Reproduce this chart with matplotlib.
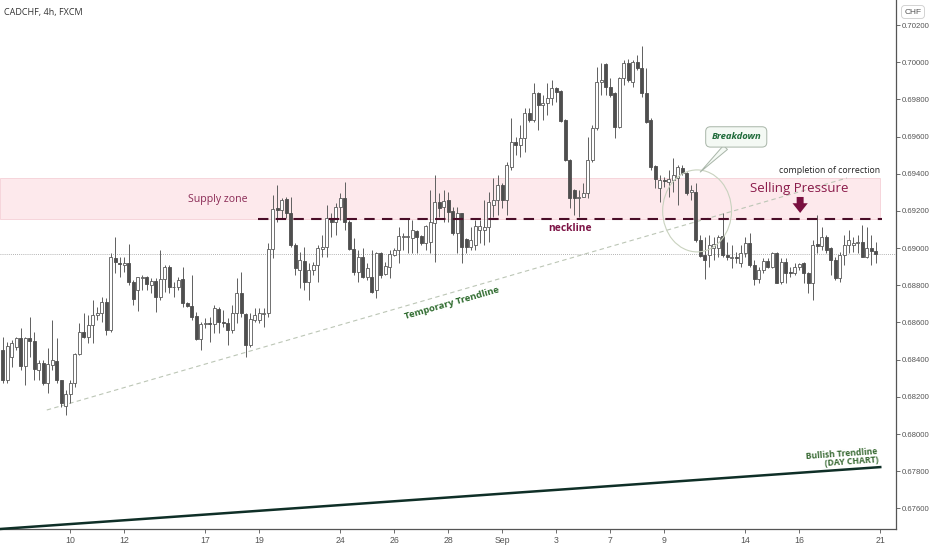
import numpy as np
import matplotlib
matplotlib.use("Agg")
import matplotlib.pyplot as plt
from matplotlib.patches import Rectangle, Ellipse

# CADCHF 4h candles
opens = [
    .68452, .68290, .68416, .68470, .68514, .68366, .68514, .68502, .68344, .68380,
    .68272, .68371, .68394, .68290, .68150, .68215, .68272, .68430, .68550, .68520,
    .68586, .68640, .68649, .68712, .68559, .68945, .68921, .68909, .68918, .68816,
    .68774, .68841, .68843, .68801, .68825, .68739, .68834, .68896, .68789, .68792,
    .68834, .68703, .68690, .68636, .68513, .68592, .68599, .68592, .68671, .68604,
    .68599, .68559, .68649, .68757, .68644, .68479, .68613, .68613, .68644, .68649,
    .68993, .69214, .69205, .69262, .69187, .69016, .68882, .68930, .68819, .68882,
    .68909, .68993, .69004, .69160, .69142, .69223, .69268, .69142, .68995, .68873,
    .68954, .68843, .68846, .68774, .68972, .68860, .68900, .68963, .68990, .69058,
    .69058, .69052, .69092, .69065, .69025, .69034, .69133, .69246, .69223, .69259,
    .69199, .69079, .69191, .69047, .69008, .69016, .69097, .69097, .69112, .69232,
    .69259, .69339, .69259, .69438, .69572, .69555, .69590, .69725, .69689, .69836,
    .69770, .69779, .69806, .69859, .69847, .69689, .69474, .69312, .69268, .69276,
    .69294, .69474, .69644, .69895, .69990, .69868, .69832, .69653, .69913, .69997,
    .69895, .70003, .69967, .69836, .69689, .69442, .69321, .69366, .69357, .69366,
    .69375, .69432, .69402, .69303, .69303, .69043, .68963, .68963, .68999, .68999,
    .69065, .68963, .68948, .68954, .68918, .68972, .69029, .68909, .68832, .68882,
    .68932, .68900, .68975, .68819, .68927, .68873, .68864, .68900, .68918, .68868,
    .68814, .69022, .69011, .69061, .68999, .68936, .68837, .68963, .69016, .69016,
    .69025, .69034, .68954, .68999, .68986,
]
highs = [
    .68523, .68497, .68505, .68523, .68568, .68523, .68631, .68550, .68398, .68398,
    .68461, .68613, .68514, .68290, .68237, .68290, .68434, .68599, .68649, .68640,
    .68721, .68685, .68739, .68730, .68972, .69058, .68954, .68954, .69022, .68828,
    .68846, .68855, .68850, .68837, .68837, .68990, .68909, .68909, .68819, .68846,
    .68900, .68712, .68855, .68658, .68604, .68622, .68631, .68694, .68685, .68667,
    .68622, .68694, .68837, .68873, .68649, .68649, .68676, .68676, .68676, .69029,
    .69285, .69339, .69268, .69276, .69276, .69025, .68981, .69008, .68918, .68927,
    .69016, .69070, .69232, .69187, .69241, .69294, .69357, .69151, .69052, .68990,
    .68999, .68918, .68990, .68981, .68981, .68927, .68990, .68999, .69115, .69079,
    .69160, .69151, .69097, .69070, .69124, .69312, .69393, .69294, .69312, .69303,
    .69223, .69223, .69191, .69052, .69115, .69151, .69151, .69259, .69303, .69375,
    .69393, .69348, .69465, .69698, .69599, .69662, .69752, .69752, .69886, .69841,
    .69824, .69886, .69904, .69868, .69850, .69693, .69477, .69316, .69312, .69348,
    .69599, .69662, .69972, .69994, .69994, .69913, .69841, .69922, .70012, .70015,
    .70012, .70040, .70087, .69967, .69698, .69447, .69393, .69384, .69420, .69483,
    .69447, .69447, .69411, .69339, .69348, .69070, .69061, .69070, .69061, .69070,
    .69187, .69034, .69016, .68981, .69016, .69061, .69079, .68936, .68900, .68945,
    .68945, .68981, .68981, .68945, .68945, .68900, .68918, .68922, .68927, .68873,
    .69043, .69178, .69115, .69070, .69007, .68954, .68981, .69070, .69097, .69061,
    .69070, .69124, .69115, .69070, .69034,
]
lows = [
    .68272, .68272, .68362, .68452, .68344, .68263, .68416, .68290, .68290, .68263,
    .68219, .68344, .68272, .68147, .68102, .68165, .68254, .68425, .68514, .68488,
    .68488, .68613, .68604, .68532, .68550, .68864, .68846, .68873, .68801, .68694,
    .68663, .68774, .68774, .68757, .68658, .68721, .68765, .68757, .68739, .68774,
    .68685, .68685, .68613, .68505, .68452, .68568, .68497, .68541, .68541, .68577,
    .68479, .68541, .68595, .68631, .68416, .68470, .68604, .68595, .68577, .68631,
    .68945, .69142, .69160, .69160, .69008, .68855, .68783, .68774, .68721, .68855,
    .68819, .68954, .68954, .69061, .69070, .69151, .69097, .68990, .68855, .68819,
    .68837, .68828, .68760, .68730, .68837, .68855, .68837, .68957, .68918, .68990,
    .68972, .68972, .68972, .69016, .68990, .68972, .68927, .69169, .69142, .69142,
    .69070, .68972, .68918, .68972, .68990, .68990, .69025, .69016, .69034, .69169,
    .69178, .69214, .69178, .69420, .69501, .69492, .69519, .69680, .69680, .69635,
    .69689, .69716, .69770, .69788, .69680, .69470, .69214, .69178, .69169, .69276,
    .69268, .69465, .69635, .69824, .69824, .69815, .69590, .69644, .69877, .69895,
    .69868, .69958, .69815, .69671, .69420, .69321, .69250, .69330, .69276, .69303,
    .69232, .69393, .69285, .69259, .69034, .68954, .68832, .68900, .68936, .68954,
    .68954, .68936, .68891, .68918, .68900, .68954, .68900, .68801, .68810, .68864,
    .68891, .68891, .68810, .68807, .68810, .68846, .68855, .68882, .68810, .68757,
    .68721, .68972, .68990, .68972, .68855, .68828, .68819, .68909, .68972, .68981,
    .68972, .68950, .68945, .68909, .68918,
]
closes = [
    .68290, .68473, .68491, .68514, .68366, .68514, .68502, .68348, .68380, .68272,
    .68375, .68398, .68290, .68165, .68215, .68272, .68430, .68550, .68520, .68586,
    .68640, .68649, .68712, .68559, .68950, .68923, .68912, .68918, .68816, .68726,
    .68843, .68846, .68806, .68825, .68739, .68834, .68900, .68792, .68792, .68828,
    .68703, .68690, .68631, .68513, .68592, .68599, .68592, .68676, .68604, .68595,
    .68559, .68652, .68757, .68649, .68479, .68617, .68640, .68649, .68649, .68993,
    .69208, .69205, .69259, .69187, .69016, .68891, .68936, .68819, .68882, .68909,
    .68999, .69004, .69160, .69142, .69223, .69268, .69142, .68995, .68873, .68954,
    .68843, .68891, .68765, .68972, .68855, .68904, .68968, .68990, .69065, .69065,
    .69065, .69097, .69058, .69029, .69119, .69142, .69250, .69214, .69255, .69196,
    .69079, .69187, .69008, .69008, .69043, .69119, .69119, .69112, .69250, .69259,
    .69339, .69259, .69447, .69572, .69555, .69590, .69725, .69689, .69836, .69770,
    .69782, .69806, .69859, .69841, .69685, .69474, .69268, .69268, .69276, .69298,
    .69474, .69644, .69895, .69904, .69868, .69824, .69653, .69913, .69997, .69904,
    .70003, .69967, .69832, .69680, .69438, .69370, .69366, .69361, .69370, .69393,
    .69438, .69402, .69294, .69312, .69043, .68957, .68936, .69016, .69022, .69061,
    .68963, .68950, .68954, .68948, .68972, .69029, .68909, .68832, .68882, .68932,
    .68900, .68975, .68814, .68927, .68864, .68864, .68900, .68914, .68868, .68814,
    .69016, .69011, .69061, .68990, .68936, .68837, .68963, .69016, .69043, .69029,
    .69034, .68954, .68999, .68986, .68968,
]

tick_pos = [15, 27, 45, 57, 75, 87, 99, 111, 123, 135, 147, 165, 177, 195]
tick_lbl = ["10", "12", "17", "19", "24", "26", "28", "Sep", "3", "7", "9", "14", "16", "21"]
price_ticks = [0.676, 0.678, 0.680, 0.682, 0.684, 0.686, 0.688, 0.690,
               0.692, 0.694, 0.696, 0.698, 0.700, 0.702]

supply_top, supply_bot = 0.69377, 0.69156
neckline = 0.69156
temp_trend_x, temp_trend_y = [9.8, 187.6], [0.68129, 0.69377]
day_trend_x, day_trend_y = [-0.6, 195.0], [0.67489, 0.67822]

x = np.arange(len(opens))
o = np.array(opens); h = np.array(highs); l = np.array(lows); c = np.array(closes)
up = c >= o

fig = plt.figure(figsize=(9.32, 5.5), dpi=100)
ax = fig.add_axes([0, 21 / 550, 896 / 932, 529 / 550])
ax.set_xlim(-0.6, 198.5)
ax.set_ylim(0.67489, 0.703345)

FONT = "Liberation Sans"
TXT = "Open Sans"

# supply zone
ax.add_patch(Rectangle((-0.6, supply_bot), 195.6, supply_top - supply_bot,
                       facecolor="#fde9ec", edgecolor="#f5d0d6", lw=0.6, zorder=0))
ax.text(47.8, 0.69264, "Supply zone", color="#8a2a55", fontsize=7.6,
        family=TXT, ha="center", va="center")

# last price line
ax.axhline(closes[-1], color="#9a9a9a", lw=0.6, ls=(0, (1, 1.5)), zorder=1)

# candles
ax.vlines(x, l, h, color="#5f5f5f", lw=0.7, zorder=2)
body_h = np.maximum(np.abs(c - o), 0.000025)
body_b = np.minimum(o, c)
ax.bar(x[up], body_h[up], bottom=body_b[up], width=0.64, facecolor="white",
       edgecolor="#5a5a5a", lw=0.6, zorder=3)
ax.bar(x[~up], body_h[~up], bottom=body_b[~up], width=0.64, facecolor="#4e4e4e",
       edgecolor="#4e4e4e", lw=0.6, zorder=3)

# neckline
ax.plot([56.7, 195.4], [neckline, neckline], color="#4a0d28", lw=1.5,
        ls=(0, (5, 3.5)), zorder=4)
ax.text(126.1, 0.69108, "neckline", color="#7d1446", fontsize=7.4, fontweight="bold",
        family=TXT, ha="center", va="center")

# temporary trendline
ax.plot(temp_trend_x, temp_trend_y, color="#bcc6b6", lw=0.8, ls=(0, (4, 3)), zorder=1)
ax.text(99.9, 0.68704, "Temporary Trendline", color="#2e6b2e", fontsize=6.8,
        fontweight="bold", family=TXT, rotation=16,
        ha="center", va="center", rotation_mode="anchor")

# daily trendline
ax.plot(day_trend_x, day_trend_y, color="#0f2f27", lw=1.8, zorder=4, clip_on=False)
ax.text(194.6, 0.67836, "Bullish Trendline\n(DAY CHART)", color="#3a6b35",
        fontsize=6.2, fontweight="bold", family=TXT, ha="right", va="bottom",
        multialignment="right", linespacing=0.9, rotation=4, rotation_mode="anchor")

# breakdown ellipse + callout
ax.add_patch(Ellipse((154.3, 0.6920), 15.3, 0.00441, facecolor="none",
                     edgecolor="#c9d2bf", lw=0.8, zorder=5))
ax.annotate("Breakdown", xy=(155.0, 0.69409), xytext=(163.0, 0.69598),
            color="#1f6b3a", fontsize=6.8, fontstyle="italic", fontweight="bold",
            family=TXT, ha="center", va="center",
            bbox=dict(boxstyle="round,pad=0.6,rounding_size=0.5", fc="#f4f9f4",
                      ec="#a8b5a8", lw=0.7),
            arrowprops=dict(arrowstyle="wedge,tail_width=0.6", fc="#f4f9f4",
                            ec="#a8b5a8", lw=0.7, shrinkA=0, shrinkB=0),
            zorder=6)

ax.text(195.0, 0.6942, "completion of correction", color="#222222", fontsize=6.3,
        family=TXT, ha="right", va="center")
ax.text(177.0, 0.69323, "Selling Pressure", color="#8a1a4a", fontsize=9.5,
        family=TXT, ha="center", va="center")
ax.annotate("", xy=(177.2, 0.69189), xytext=(177.2, 0.69275),
            arrowprops=dict(arrowstyle="simple,head_width=1.1,head_length=0.7,tail_width=0.5",
                            color="#7a1040", lw=0, shrinkA=0, shrinkB=0,
                            mutation_scale=10), zorder=6)

# axes styling
for s in ("top", "left"):
    ax.spines[s].set_visible(False)
for s in ("right", "bottom"):
    ax.spines[s].set_color("#555555")
    ax.spines[s].set_linewidth(0.9)
ax.yaxis.tick_right()
ax.set_yticks(price_ticks)
ax.set_yticklabels([f"{p:.5f}" for p in price_ticks])
ax.set_xticks(tick_pos)
ax.set_xticklabels(tick_lbl)
ax.tick_params(axis="x", colors="#555555", labelsize=6.3, length=3, width=0.6, pad=2)
ax.tick_params(axis="y", colors="#555555", labelsize=5.6, length=3, width=0.6, pad=1.5)
for t in ax.get_xticklabels() + ax.get_yticklabels():
    t.set_family(FONT)

fig.text(4 / 932, 1 - 12 / 550, "CADCHF, 4h, FXCM", fontsize=6.5, color="#333333",
         family=TXT, va="center")
fig.text(913 / 932, 1 - 12 / 550, "CHF", fontsize=6, color="#555555", family=FONT,
         ha="center", va="center",
         bbox=dict(boxstyle="round,pad=0.35", fc="white", ec="#cccccc", lw=0.6))

fig.savefig("out.png", dpi=100, facecolor="white")
